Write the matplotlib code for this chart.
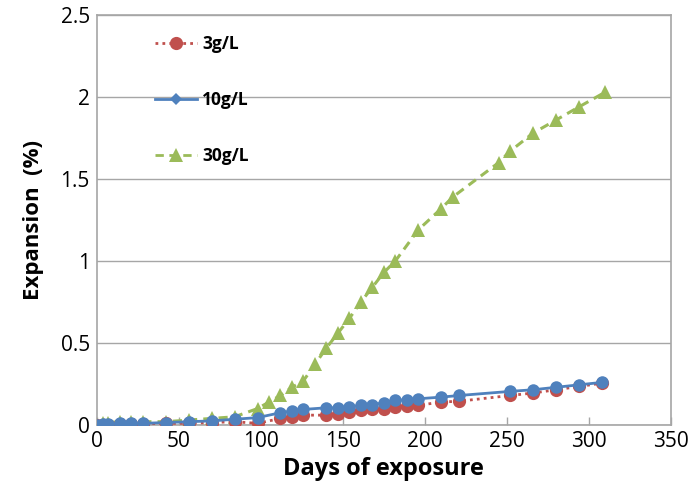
import matplotlib
matplotlib.use("Agg")
import matplotlib.pyplot as plt
from matplotlib.lines import Line2D

days_30 = [0, 4, 7, 14, 21, 28, 42, 56, 70, 84, 98, 105, 112, 119, 126, 133, 140, 147,
           154, 161, 168, 175, 182, 196, 210, 217, 245, 252, 266, 280, 294, 310]
exp_30 = [0.0, 0.01, 0.015, 0.02, 0.02, 0.02, 0.02, 0.03, 0.04, 0.05, 0.10, 0.14, 0.18,
          0.23, 0.27, 0.37, 0.47, 0.56, 0.65, 0.75, 0.84, 0.93, 1.00, 1.19, 1.32, 1.39,
          1.60, 1.67, 1.78, 1.86, 1.94, 2.03]

days_lo = [0, 4, 7, 14, 21, 28, 42, 56, 70, 84, 98, 112, 119, 126, 140, 147, 154, 161,
           168, 175, 182, 189, 196, 210, 221, 252, 266, 280, 294, 308]
exp_10 = [0.0, 0.005, 0.005, 0.01, 0.01, 0.01, 0.015, 0.02, 0.025, 0.035, 0.045, 0.075,
          0.085, 0.095, 0.105, 0.105, 0.11, 0.12, 0.125, 0.135, 0.15, 0.155, 0.16, 0.17,
          0.18, 0.205, 0.215, 0.23, 0.245, 0.26]
exp_3 = [0.0, 0.0, 0.0, 0.005, 0.005, 0.005, 0.01, 0.01, 0.015, 0.02, 0.01, 0.04, 0.05,
         0.06, 0.06, 0.07, 0.08, 0.09, 0.095, 0.10, 0.11, 0.115, 0.12, 0.14, 0.145, 0.18,
         0.195, 0.215, 0.235, 0.255]

labels = ["3g/L", "10g/L", "30g/L"]
x_ticks = [0, 50, 100, 150, 200, 250, 300, 350]
y_ticks = [0, 0.5, 1, 1.5, 2, 2.5]
y_tick_labels = ["0", "0.5", "1", "1.5", "2", "2.5"]

RED = "#C0504D"
BLUE = "#4F81BD"
GREEN = "#9BBB59"
GRID = "#A6A6A6"

plt.rcParams['font.family'] = ['Open Sans', 'DejaVu Sans']

fig = plt.figure(figsize=(6.91, 5.0), dpi=100)
ax = fig.add_axes([0.140, 0.15, 0.831, 0.82])

ax.plot(days_30, exp_30, color=GREEN, linestyle=(0, (3, 2)), linewidth=2.2,
        marker="^", markersize=10, markeredgewidth=0, zorder=3)
ax.plot(days_lo, exp_3, color=RED, linestyle=(0, (1, 1.5)), linewidth=2.0,
        marker="o", markersize=9.5, markeredgewidth=0, zorder=4)
ax.plot(days_lo, exp_10, color=BLUE, linestyle="-", linewidth=2.0,
        marker="o", markersize=9, markeredgewidth=0, zorder=5)

ax.set_xlim(x_ticks[0], x_ticks[-1])
ax.set_ylim(y_ticks[0], y_ticks[-1])
ax.set_xticks(x_ticks)
ax.set_yticks(y_ticks)
ax.set_yticklabels(y_tick_labels)
ax.tick_params(axis="both", labelsize=15, colors="black", length=0, pad=5)
ax.tick_params(axis="x", direction="in", length=6, color=GRID, width=1, pad=4)
ax.yaxis.grid(True, color=GRID, linewidth=1)
ax.set_axisbelow(True)
for s in ax.spines.values():
    s.set_color(GRID)
    s.set_linewidth(1.2)

ax.set_xlabel("Days of exposure", fontsize=17, fontweight="bold", labelpad=4)
ax.set_ylabel("Expansion  (%)", fontsize=16, fontweight="bold", labelpad=12)

handles = [
    Line2D([], [], color=RED, linestyle=(0, (1, 1.5)), linewidth=2, marker="o",
           markersize=9.5, markeredgewidth=0),
    Line2D([], [], color=BLUE, linestyle="-", linewidth=2, marker="D",
           markersize=6, markeredgewidth=0),
    Line2D([], [], color=GREEN, linestyle=(0, (3, 2)), linewidth=2, marker="^",
           markersize=10, markeredgewidth=0),
]
leg = ax.legend(handles, labels, loc="upper left", bbox_to_anchor=(0.075, 0.99),
                frameon=False, handlelength=2.4, labelspacing=2.2, handletextpad=0.3,
                prop={"weight": "bold", "size": 12.5})

fig.savefig("out.png", dpi=100)
